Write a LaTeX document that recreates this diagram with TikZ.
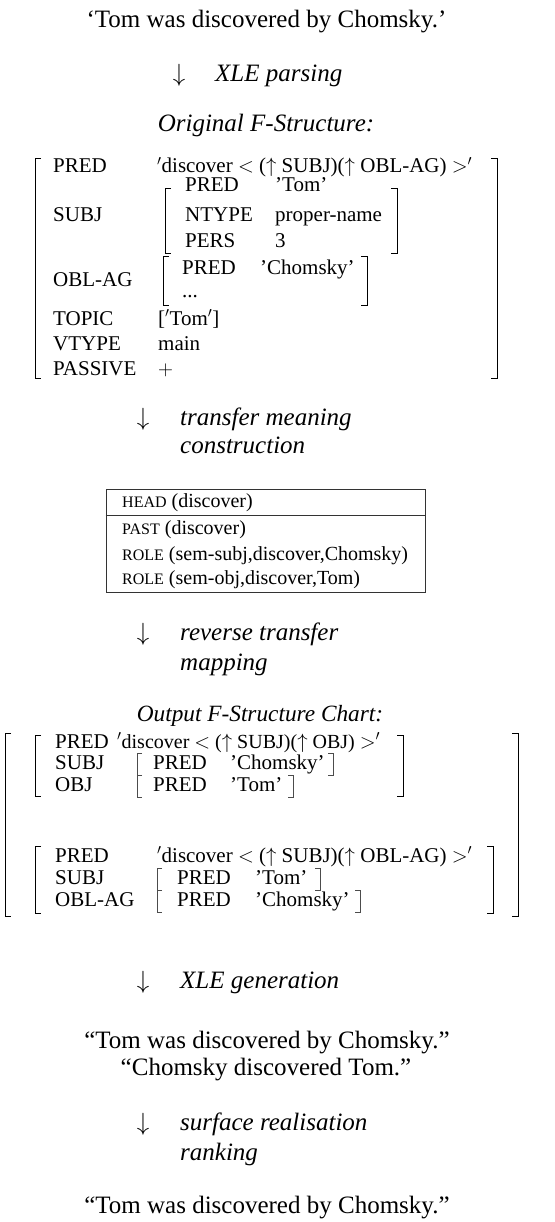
\documentclass[tikz,border=0pt]{standalone}
\usepackage{fontspec}
\setmainfont{Liberation Serif}
\newcommand\bigfs{\fontsize{25}{30}\selectfont}
\newcommand\midfs{\fontsize{23.3}{28}\selectfont}
\newcommand\smfs{\fontsize{21}{25}\selectfont}
\newcommand\boxfs{\fontsize{20}{24}\selectfont}
\newcommand\scfs{\fontsize{16}{20}\selectfont}
\begin{document}
\begin{tikzpicture}[x=1pt,y=-1pt,
  big/.style={inner sep=0pt, anchor=base, font=\bigfs},
  bigit/.style={inner sep=0pt, anchor=base west, font=\bigfs\itshape},
  arr/.style={inner sep=0pt, anchor=base, font=\bigfs},
  fs/.style={inner sep=0pt, anchor=base west, font=\smfs},
  bx/.style={inner sep=0pt, anchor=base west, font=\boxfs},
  brk/.style={line width=0.9pt},
  sbrk/.style={line width=0.6pt, black!70}]
\useasboundingbox (0,0) rectangle (554,1222);

% input sentence
\node[big] (t1) at (266.5,28) {‘Tom was discovered by Chomsky.’};
\node[arr] (a1) at (179,82) {$\downarrow$};
\node[bigit] (l1) at (215,82) {XLE parsing};
\node[bigit, anchor=base] (h1) at (266,132) {Original F-Structure:};

% original f-structure
\draw[brk] (41,158) -- (35,158) -- (35,378) -- (41,378);
\draw[brk] (491,158) -- (497,158) -- (497,378) -- (491,378);
\node[fs] (f1p) at (53,173) {PRED};
\node[fs] (f1pv) at (157,173) {$'$discover $<$ ($\uparrow$ SUBJ)($\uparrow$ OBL-AG) $>'$};
\node[fs] (f1s) at (53,222) {SUBJ};
\draw[brk] (171,188) -- (165,188) -- (165,253) -- (171,253);
\draw[brk] (391,188) -- (397,188) -- (397,253) -- (391,253);
\node[fs] (f1sp) at (185,192) {PRED};
\node[fs] (f1spv) at (275,192) {’Tom’};
\node[fs] (f1sn) at (185,222) {NTYPE};
\node[fs] (f1snv) at (275,222) {proper-name};
\node[fs] (f1sr) at (185,248) {PERS};
\node[fs] (f1srv) at (275,248) {3};
\node[fs] (f1o) at (53,287) {OBL-AG};
\draw[brk] (169,256) -- (163,256) -- (163,305) -- (169,305);
\draw[brk] (361,256) -- (367,256) -- (367,305) -- (361,305);
\node[fs] (f1op) at (182,275) {PRED};
\node[fs] (f1opv) at (260,275) {’Chomsky’};
\node[fs] (f1od) at (182,298) {...};
\node[fs] (f1t) at (53,325) {TOPIC};
\node[fs] (f1tv) at (158,325) {[$'$Tom$'$]};
\node[fs] (f1v) at (53,350) {VTYPE};
\node[fs] (f1vv) at (158,350) {main};
\node[fs] (f1a) at (53,375) {PASSIVE};
\node[fs] (f1av) at (158,375) {$+$};

% transfer meaning construction
\node[arr] (a2) at (143,425) {$\downarrow$};
\node[bigit] (l2a) at (180,425) {transfer meaning};
\node[bigit] (l2b) at (180,453) {construction};

% meaning box
\node[draw, line width=0.7pt, black!80, minimum width=319pt, minimum height=103pt, inner sep=0pt] (box) at (265.5,540.5) {};
\draw[line width=0.7pt, black!80] ([yshift=-27pt]box.north west) -- ([yshift=-27pt]box.north east);
\node[bx] (b1) at (122,507) {{\scfs HEAD} (discover)};
\node[bx] (b2) at (122,534) {{\scfs PAST} (discover)};
\node[bx] (b3) at (122,560) {{\scfs ROLE} (sem-subj,discover,Chomsky)};
\node[bx] (b4) at (122,584) {{\scfs ROLE} (sem-obj,discover,Tom)};

% reverse transfer mapping
\node[arr] (a3) at (143,640) {$\downarrow$};
\node[bigit] (l3a) at (180,640) {reverse transfer};
\node[bigit] (l3b) at (180,670) {mapping};
\node[inner sep=0pt, anchor=base, font=\midfs\itshape] (h2) at (260,721) {Output F-Structure Chart:};

% output chart
\draw[brk] (11,733) -- (5,733) -- (5,916) -- (11,916);
\draw[brk] (512,733) -- (518,733) -- (518,916) -- (512,916);
% block 1
\draw[brk] (41,735) -- (35,735) -- (35,796) -- (41,796);
\draw[brk] (397,735) -- (403,735) -- (403,796) -- (397,796);
\node[fs] (c1p) at (55,748) {PRED};
\node[bx] (c1pv) at (117,748) {$'$discover $<$ ($\uparrow$ SUBJ)($\uparrow$ OBJ) $>'$};
\node[fs] (c1s) at (55,769) {SUBJ};
\draw[sbrk] (142,753) -- (137,753) -- (137,775) -- (142,775);
\draw[sbrk] (328,753) -- (333,753) -- (333,775) -- (328,775);
\node[fs] (c1sp) at (153,769) {PRED};
\node[fs] (c1spv) at (230,769) {’Chomsky’};
\node[fs] (c1o) at (55,791) {OBJ};
\draw[sbrk] (142,775) -- (137,775) -- (137,797) -- (142,797);
\draw[sbrk] (288,775) -- (293,775) -- (293,797) -- (288,797);
\node[fs] (c1op) at (153,791) {PRED};
\node[fs] (c1opv) at (230,791) {’Tom’};
% block 2
\draw[brk] (41,846) -- (35,846) -- (35,913) -- (41,913);
\draw[brk] (487,846) -- (493,846) -- (493,913) -- (487,913);
\node[fs] (c2p) at (55,862) {PRED};
\node[fs] (c2pv) at (157,862) {$'$discover $<$ ($\uparrow$ SUBJ)($\uparrow$ OBL-AG) $>'$};
\node[fs] (c2s) at (55,884) {SUBJ};
\draw[sbrk] (162,868) -- (157,868) -- (157,890) -- (162,890);
\draw[sbrk] (315,868) -- (320,868) -- (320,890) -- (315,890);
\node[fs] (c2sp) at (177,884) {PRED};
\node[fs] (c2spv) at (255,884) {’Tom’};
\node[fs] (c2o) at (55,906) {OBL-AG};
\draw[sbrk] (162,890) -- (157,890) -- (157,912) -- (162,912);
\draw[sbrk] (355,890) -- (360,890) -- (360,912) -- (355,912);
\node[fs] (c2op) at (177,906) {PRED};
\node[fs] (c2opv) at (255,906) {’Chomsky’};

% generation
\node[arr] (a4) at (143,988) {$\downarrow$};
\node[bigit] (l4) at (180,988) {XLE generation};
\node[big] (o1) at (267,1048) {“Tom was discovered by Chomsky.”};
\node[big] (o2) at (266,1075) {“Chomsky discovered Tom.”};

% ranking
\node[arr] (a5) at (143,1130) {$\downarrow$};
\node[bigit] (l5a) at (180,1130) {surface realisation};
\node[bigit] (l5b) at (180,1160) {ranking};
\node[big] (o3) at (267,1213) {“Tom was discovered by Chomsky.”};
\end{tikzpicture}
\end{document}
